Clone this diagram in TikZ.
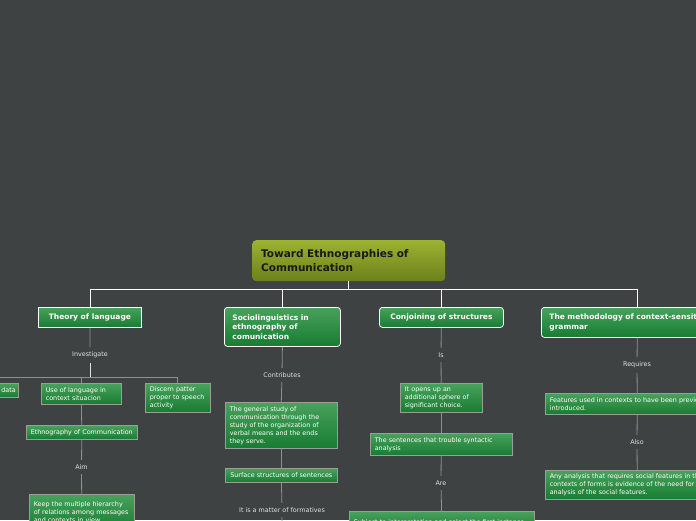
\documentclass[tikz,border=0pt]{standalone}
\usepackage{fontspec}
\setmainfont{DejaVu Sans}
\definecolor{bgdark}{RGB}{62,66,67}
\definecolor{roottop}{RGB}{156,178,48}
\definecolor{rootbot}{RGB}{108,128,30}
\definecolor{maintop}{RGB}{72,162,92}
\definecolor{mainbot}{RGB}{24,124,50}
\definecolor{boxedge}{RGB}{150,160,152}
\definecolor{lbltext}{RGB}{222,226,226}
\definecolor{subline}{RGB}{140,146,146}
\begin{document}
\begin{tikzpicture}[x=1pt,y=-1pt,
            rootbox/.style={top color=roottop, bottom color=rootbot, rounded corners=4pt, text=black!90, font=\fontsize{10.5}{14}\selectfont\bfseries, align=left, anchor=north west, inner xsep=9pt, inner ysep=4pt},
            mainbox/.style={draw=white, line width=0.8pt, top color=maintop, bottom color=mainbot, text=white, font=\fontsize{7.5}{9.5}\selectfont\bfseries, anchor=north west, inner xsep=8pt, inner ysep=3pt},
            subbox/.style={draw=boxedge, line width=0.6pt, top color=maintop, bottom color=mainbot, text=white, font=\fontsize{6.4}{8}\selectfont, align=left, anchor=north west, inner xsep=4.5pt, inner ysep=3pt},
            lbl/.style={text=lbltext, font=\fontsize{6.4}{8}\selectfont, inner sep=4.5pt},
            topline/.style={draw=white, line width=0.8pt},
            subline/.style={draw=subline, line width=0.8pt}
            ]
            \useasboundingbox (0,0) rectangle (696,520);
            \clip (0,0) rectangle (696,520);
            \fill[bgdark] (0,0) rectangle (696,520);

            % root and main topics
            \node[rootbox, text width=175, minimum height=41] (root) at (252,240) {Toward Ethnographies of\\Communication};
            \node[mainbox, minimum width=103, minimum height=20] (theory) at (38,307) {Theory of language};
            \node[mainbox, rounded corners=3pt, text width=100, align=left, minimum height=39] (socio) at (224,307) {Sociolinguistics in\\ethnography of\\comunication};
            \node[mainbox, rounded corners=3pt, minimum width=124, minimum height=20] (conj) at (379,307) {Conjoining of structures};
            \node[mainbox, rounded corners=3pt, text width=176, align=left, minimum height=30] (meth) at (541,307) {The methodology of context-sensitive\\grammar};

            \draw[topline] (root.south) -- ++(0,8) -| (theory.north);
            \draw[topline] (root.south) -- ++(0,8) -| (socio.north);
            \draw[topline] (root.south) -- ++(0,8) -| (conj.north);
            \draw[topline] (root.south) -- ++(0,8) -| (meth.north);

            % theory of language
            \node[lbl] (inv) at (90,355) {Investigate};
            \coordinate (fork1) at (90,377);
            \node[subbox, text width=53, inner xsep=2.5pt, align=right, minimum height=14] (data) at (-40,383) {data};
            \node[subbox, text width=71, minimum height=21] (use) at (41,383) {Use of language in\\context situacion};
            \node[subbox, text width=56, minimum height=29] (discern) at (145,383) {Discern patter\\proper to speech\\activity};
            \node[subbox, text width=102, align=center, minimum height=14] (ethno) at (26,425) {Ethnography of Communication};
            \node[lbl] (aim) at (81.5,467) {Aim};
            \node[subbox, text width=96, minimum height=36] (keep) at (29,494) {Keep the multiple hierarchy\\of relations among messages\\and contexts in view.};

            \draw[subline] (theory) -- (inv);
            \draw[topline, draw=lbltext] (inv) -- (fork1);
            \draw[subline] (fork1) -| (data.north);
            \draw[subline] (fork1) -| (use.north);
            \draw[subline] (fork1) -| (discern.north);
            \draw[subline] (use) -- (ethno);
            \draw[subline] (ethno) -- (aim) -- (keep);

            % sociolinguistics
            \node[lbl] (contrib) at (282,375) {Contributes};
            \node[subbox, text width=103, minimum height=46] (general) at (225,402) {The general study of\\communication through the\\study of the organization of\\verbal means and the ends\\they serve.};
            \node[subbox, text width=103, align=center, minimum height=14] (surface) at (225,468) {Surface structures of sentences};
            \node[lbl] (formative) at (282,510) {It is a matter of formatives};
            \coordinate (formEnd) at (282,530);

            \draw[subline] (socio.south) -- (contrib) -- (general.north);
            \draw[subline] (general) -- (surface);
            \draw[subline] (surface) -- (formative) -- (formEnd);

            % conjoining
            \node[lbl] (is) at (441,355) {Is};
            \node[subbox, text width=73, minimum height=29] (opens) at (400,383) {It opens up an\\additional sphere of\\significant choice.};
            \node[subbox, text width=133, minimum height=22] (sentences) at (370,433) {The sentences that trouble syntactic\\analysis};
            \node[lbl] (are) at (441,483) {Are};
            \node[subbox, text width=176, minimum height=22] (subject) at (349,511) {Subject to interpretation and select the first instance};

            \draw[subline] (conj) -- (is) -- (opens);
            \draw[subline] (opens) -- (sentences);
            \draw[subline] (sentences) -- (are) -- (subject);

            % methodology
            \node[lbl] (requires) at (637,365) {Requires};
            \node[subbox, text width=175, minimum height=21] (features) at (545,393) {Features used in contexts to have been previously\\introduced.};
            \node[lbl] (also) at (637,442) {Also};
            \node[subbox, text width=175, minimum height=29] (any) at (545,470) {Any analysis that requires social features in the\\contexts of forms is evidence of the need for an\\analysis of the social features.};

            \draw[subline] (meth) -- (requires) -- (features);
            \draw[subline] (features) -- (also) -- (any);
            \end{tikzpicture}
\end{document}
